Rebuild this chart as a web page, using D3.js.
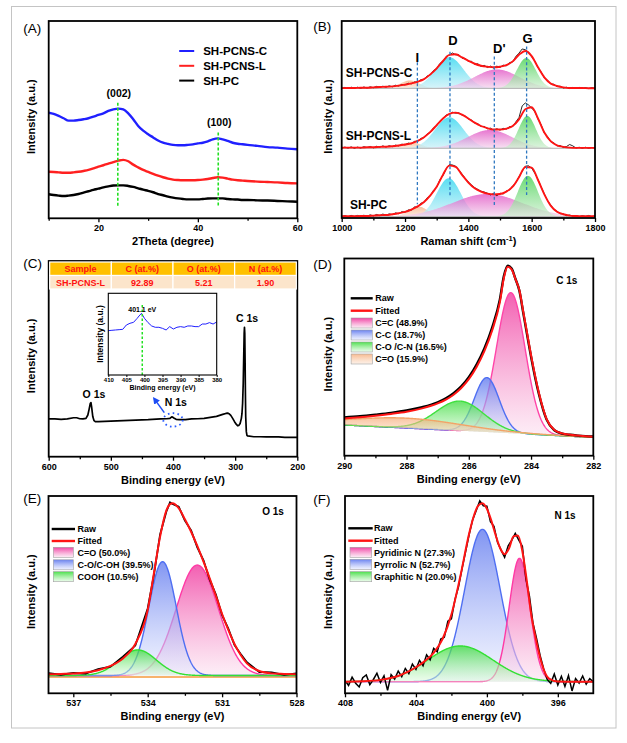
<!DOCTYPE html>
<html><head><meta charset="utf-8">
<script src="https://cdn.jsdelivr.net/npm/d3@7"></script>
<style>
html,body{margin:0;padding:0;background:#fff;}
svg text{font-family:"Liberation Sans",Arial,Helvetica,sans-serif;}
</style></head><body>
<svg id="fig" width="627" height="743"></svg>
<script>
// ===================== DATA =====================
// (A) XRD
const xrdTheta = [10,11,12,13,14,15,16,17,18,19,20,21,22,23,24,25,26,27,28,29,30,31,32,33,34,35,36,37,38,39,40,41,42,43,44,45,46,47,48,49,50,52,54,56,58,60];
const xrdSamples = ['SH-PCNS-C','SH-PCNS-L','SH-PC'];
const xrdPCNSC = [53.5,52.9,51.9,50.7,49.5,49.5,49.8,50.2,50.7,51.5,52.4,53.2,54.4,55.2,55.6,55.2,53.2,50.2,46.8,44.4,42.6,41.0,39.4,38.3,37.7,37.2,37.0,37.0,37.2,37.5,38.0,38.3,39.0,40.0,40.5,40.0,39.2,38.3,37.8,37.5,37.2,36.7,36.1,35.8,35.3,35.0];
const xrdPCNSL = [23.6,23.5,23.3,23.1,23.1,23.3,23.6,24.0,24.5,25.3,26.2,26.9,27.7,28.5,29.2,29.6,28.9,27.2,25.8,24.5,23.5,22.5,21.6,20.8,20.1,19.6,19.4,19.3,19.3,19.3,19.4,19.6,19.9,20.4,20.8,20.6,20.1,19.6,19.3,19.1,18.9,18.6,18.4,18.2,17.9,17.7];
const xrdPC = [12.2,11.8,11.5,11.3,11.5,11.8,12.3,13.0,13.7,14.4,15.0,15.7,16.2,16.6,16.7,16.7,16.4,15.9,15.2,14.5,13.9,13.2,12.3,11.7,11.0,10.5,10.1,9.8,9.6,9.6,9.6,9.8,10.0,10.1,10.1,10.1,9.8,9.6,9.5,9.3,9.3,9.1,9.0,8.8,8.6,8.4];
const xrdPeakPos = [23.9, 44.1];
const xrdPeakNames = ['(002)','(100)'];
const xrdTicks = [20,40,60];
const xrdMinor = [10,30,50];

// (B) Raman
const ramanShift = [1000,1020,1040,1060,1080,1100,1120,1140,1160,1180,1200,1220,1240,1260,1280,1300,1320,1340,1360,1380,1400,1420,1440,1460,1480,1500,1520,1540,1560,1580,1600,1620,1640,1660,1680,1700,1720,1740,1760,1780,1800];
const ramanRawShift = [1000,1010,1020,1030,1040,1050,1060,1070,1080,1090,1100,1110,1120,1130,1140,1150,1160,1170,1180,1190,1200,1210,1220,1230,1240,1250,1260,1270,1280,1290,1300,1310,1320,1330,1340,1350,1360,1370,1380,1390,1400,1410,1420,1430,1440,1450,1460,1470,1480,1490,1500,1510,1520,1530,1540,1550,1560,1570,1580,1590,1600,1610,1620,1630,1640,1650,1660,1670,1680,1690,1700,1710,1720,1730,1740,1750,1760,1770,1780,1790,1800];
const ramanSamples = ['SH-PCNS-C','SH-PCNS-L','SH-PC'];
const ramanOffsets = [65.8, 35.4, 0.7];
const ramanFitC = [0.1,0.2,0.2,0.3,0.3,0.5,0.7,0.8,1.0,1.4,1.9,2.5,3.4,4.7,7.1,10.2,13.9,17.0,17.3,15.7,14.0,12.5,11.5,11.0,10.7,11.0,11.8,13.7,17.1,19.0,16.4,10.7,5.6,2.5,1.2,0.5,0.2,0.2,0.2,0.1,0.1];
const ramanRawC = [0.0,0.5,-0.1,0.6,0.1,0.6,0.0,0.7,0.2,0.8,0.3,1.0,0.5,1.1,0.6,1.3,0.8,1.6,1.2,2.0,1.7,2.6,2.3,3.3,3.1,4.4,4.5,6.3,6.8,9.1,10.0,12.6,13.6,16.2,16.9,18.0,17.0,17.1,15.3,15.2,13.7,13.7,12.2,12.5,11.1,11.7,10.6,11.3,10.3,11.3,10.6,11.8,11.4,13.1,13.4,16.2,17.9,20.0,19.6,18.3,16.0,13.9,10.4,8.3,5.3,4.2,2.2,2.1,0.9,1.1,0.2,0.6,-0.1,0.5,0.0,0.5,0.0,0.4,-0.1,0.4,0.0];
const ramanFitL = [0.3,0.3,0.3,0.3,0.5,0.5,0.7,0.8,1.0,1.4,1.9,2.5,3.7,5.6,8.3,11.7,15.1,17.4,18.1,17.1,15.1,13.0,11.3,10.2,9.5,9.5,10.0,11.3,14.7,19.8,20.8,15.1,8.0,3.6,1.5,0.7,0.3,0.2,0.2,0.2,0.2];
const ramanRawL = [0.0,0.6,0.1,0.7,0.0,0.6,0.1,0.8,0.3,0.9,0.2,1.0,0.5,1.2,0.6,1.3,0.8,1.6,1.2,2.1,1.7,2.6,2.3,3.5,3.5,5.0,5.4,7.3,8.0,10.4,11.4,13.8,14.8,16.9,17.2,18.3,17.8,18.0,16.8,16.5,14.8,14.4,12.7,12.5,11.0,11.1,9.9,10.2,9.2,9.9,9.2,10.1,9.7,11.0,11.0,13.4,15.6,21.5,23.0,22.0,20.4,18.6,14.8,11.9,7.7,6.0,3.3,2.8,1.2,1.4,0.4,0.9,1.9,1.2,0.1,0.5,0.0,0.5,0.0,0.4,0.1];
const ramanFitPC = [0.2,0.2,0.2,0.3,0.3,0.5,0.7,0.8,1.2,1.7,2.4,3.6,5.2,7.4,10.8,15.2,21.3,25.9,25.2,21.2,17.3,14.4,12.7,11.7,11.3,11.5,12.7,15.2,20.0,25.2,24.9,18.6,11.3,5.6,2.5,1.2,0.5,0.3,0.2,0.2,0.2];
const ramanRawPC = [0.0,0.5,0.0,0.6,0.1,0.6,0.1,0.7,0.2,0.9,0.3,1.1,0.5,1.3,0.7,1.4,1.0,1.9,1.5,2.5,2.2,3.4,3.3,4.9,4.9,6.8,7.2,9.6,10.5,13.4,14.9,18.7,20.9,24.3,26.4,26.2,25.6,23.7,21.6,19.4,17.6,16.1,14.7,13.8,12.9,12.5,11.9,11.0,11.8,10.6,11.9,11.5,13.0,13.5,15.6,17.2,20.3,23.0,25.6,25.8,24.6,22.0,18.9,15.0,11.5,8.2,5.9,3.8,2.7,1.5,1.4,0.5,0.8,0.2,0.6,0.0,0.5,0.1,0.6,0.0,0.4];
const ramanBands = ['I','D',"D'",'G'];
const ramanBandPos = [1239, 1342, 1482, 1584];
// fitted band parameters [I, D, D', G] per sample: centre (cm-1), height, sigma (cm-1)
const ramanCentersC = [1215, 1340, 1490, 1583];
const ramanHeightsC = [4.0, 15.8, 9.6, 15.4];
const ramanWidthsC  = [30, 45, 70, 30];
const ramanCentersL = [1220, 1340, 1468, 1586];
const ramanHeightsL = [3.0, 15.7, 9.3, 16.4];
const ramanWidthsL  = [30, 45, 70, 27];
const ramanCentersPC = [1242, 1338, 1460, 1588];
const ramanHeightsPC = [5.1, 19.5, 11.5, 20.7];
const ramanWidthsPC  = [30, 38, 110, 32];
const ramanTicks = [1000,1200,1400,1600,1800];
const ramanMinor = [1100,1300,1500,1700];

// (C) XPS survey
const surveyE = [600,590,580,570,560,555,550,545,540,537,535,533,532,531,529,527,525,520,510,500,480,460,440,420,410,405,402,400,398,395,390,380,370,360,350,340,330,325,320,315,312,310,307,304,301,298,296,294,292,290,289,288,287,286,285.5,285,284.5,284,283.5,283,282,281,280,270,260,250,240,230,220,210,200];
const surveyV = [19.3,19.3,19.1,19.3,19.9,19.9,19.4,19.3,19.6,21.3,24.2,27.3,27.6,25.6,20.4,18.4,17.9,17.9,18.1,18.2,18.4,18.7,18.9,19.3,19.4,19.6,20.4,20.1,19.6,19.1,18.9,18.9,19.3,19.4,19.6,20.1,20.6,21.1,21.6,22.1,22.3,22.0,21.1,19.6,17.9,16.5,15.8,16.0,17.0,19.6,22.1,27.3,37.5,54.5,63.0,66.1,63.0,49.4,32.4,20.4,12.8,10.9,10.6,10.2,10.2,10.1,10.1,10.1,9.9,9.9,9.9];
const surveyPeaks = ['O 1s','N 1s','C 1s'];
const surveyTicks = [600,500,400,300,200];
const surveyMinor = [550,450,350,250];
const insetE = [410,409,408,407,406,405,404,403,402,401.5,400.8,400,399,398,397,396,395,394,393,392,391,390,389,388,387,386,385,384,383,382,381,380];
const insetV = [54.3,54.7,55.1,55.5,55.9,61.2,63.3,64.5,69.4,72.2,75.5,69.4,64.1,60.0,58.4,58.4,57.1,55.1,59.2,56.3,58.4,59.2,58.4,60.0,60.0,59.2,59.2,62.4,62.4,64.1,62.4,64.9];
const insetPeak = 400.6;
const insetPeakLabel = '401.1 eV';
const insetTicks = [410,405,400,395,390,385,380];
const tableHeader = ['Sample','C (at.%)','O (at.%)','N (at.%)'];
const tableRow = ['SH-PCNS-L','92.89','5.21','1.90'];

// (D) C 1s
const c1sEnergy = [290,289.5,289,288.5,288,287.5,287,286.75,286.5,286.25,286,285.75,285.5,285.25,285,284.875,284.75,284.625,284.5,284.375,284.25,284.125,284,283.75,283.5,283.25,283,282.75,282.5,282.25,282];
const c1sFitted = [18.9,19.5,20.3,21.2,22.3,24.0,26.5,28.3,30.8,34.2,38.8,45.0,53.0,63.5,78.0,90.0,95.8,94.5,89.5,84.0,73.0,62.0,51.0,32.0,18.5,13.0,11.3,10.6,10.2,9.9,9.6];
const c1sRaw = [19.4,20.0,20.8,21.7,22.9,24.6,27.1,29.0,31.6,35.0,39.8,46.2,54.4,65.0,79.4,91.0,96.4,95.0,89.6,83.6,72.4,61.2,50.2,31.4,18.3,12.9,11.2,10.6,10.2,9.9,9.7];
const c1sLabels = ['C=C (48.9%)','C-C (18.7%)','C-O /C-N (16.5%)','C=O (15.9%)'];
const c1sCenters = [284.65, 285.42, 286.28, 288.0];
const c1sHeights = [71.3, 27.6, 15.0, 5.0];
const c1sWidths = [0.46, 0.40, 0.77, 1.8];
const c1sBackE = [290, 282];
const c1sBackV = [15.6, 9.3];
const c1sTicks = [290,288,286,284,282];
const c1sMinor = [289,287,285,283];

// (E) O 1s
const o1sEnergy = [538,537.5,537,536.5,536,535.5,535,534.5,534,533.75,533.5,533.25,533.1,533,532.75,532.5,532.25,532,531.75,531.5,531.25,531,530.75,530.5,530.25,530,529.5,529,528.5,528];
const o1sFitted = [9.6,9.8,10.0,10.5,11.7,13.9,17.7,25.0,42.2,60.8,79.4,92.6,95.9,96.3,93.8,88.2,81.9,74.7,66.7,58.3,49.3,40.2,32.1,25.0,19.4,15.2,11.3,10.1,9.8,9.6];
const o1sRaw = [10.2,9.4,10.3,10.0,12.3,13.5,18.6,24.2,43.0,60.0,80.5,92.0,96.8,96.0,94.6,87.5,82.6,74.0,67.4,57.6,50.0,39.6,32.8,24.4,19.9,15.7,10.8,10.6,9.3,10.1];
const o1sLabels = ['C=O (50.0%)','C-O/C-OH (39.5%)','COOH (10.5%)'];
const o1sCenters = [532.0, 533.4, 534.4];
const o1sHeights = [56.0, 57.7, 13.0];
const o1sWidths = [0.85, 0.55, 0.75];
const o1sBackE = [538, 528];
const o1sBackV = [9.0, 9.0];
const o1sTicks = [537,534,531,528];
const o1sMinor = [535.5,532.5,529.5];

// (F) N 1s
const n1sEnergy = [408,407,406,405,404.5,404,403.5,403,402.5,402,401.5,401,400.75,400.5,400.25,400,399.75,399.5,399.25,399,398.75,398.5,398.25,398,397.75,397.5,397.25,397,396.75,396.5,396,395,394];
const n1sFitted = [5.9,6.1,6.8,8.8,10.7,13.2,16.3,20.5,27.5,39.9,59.2,81.0,89.5,95.0,96.3,93.5,87.5,80.0,73.5,70.5,73.5,79.5,80.0,72.0,57.0,40.0,28.0,18.0,11.0,7.5,6.0,5.9,5.9];
const n1sRawE = [408,407.8,407.6,407.4,407.2,407,406.8,406.6,406.4,406.2,406,405.8,405.6,405.4,405.2,405,404.8,404.6,404.4,404.2,404,403.8,403.6,403.4,403.2,403,402.8,402.6,402.4,402.2,402,401.8,401.6,401.4,401.2,401,400.8,400.6,400.4,400.2,400,399.8,399.6,399.4,399.2,399,398.8,398.6,398.4,398.2,398,397.8,397.6,397.4,397.2,397,396.8,396.6,396.4,396.2,396,395.8,395.6,395.4,395.2,395,394.8,394.6,394.4,394.2,394];
const n1sRaw = [6.5,4.0,8.2,5.1,3.2,7.9,9.3,4.4,7.0,10.2,5.5,8.9,1.5,9.4,7.2,11.3,8.4,12.6,10.0,14.8,12.1,16.7,14.0,19.5,17.0,22.8,21.0,27.5,28.4,36.5,37.8,47.5,54.0,63.2,71.8,80.5,88.0,92.7,97.5,95.0,94.8,87.0,84.6,76.5,72.6,69.0,74.8,77.5,81.0,77.6,74.5,58.0,49.2,35.5,27.8,19.2,12.5,7.0,5.0,9.8,4.2,8.6,3.5,9.0,1.2,7.5,5.2,8.8,4.6,7.4,5.8];
const n1sLabels = ['Pyridinic N (27.3%)','Pyrrolic N (52.7%)','Graphitic N (20.0%)'];
const n1sCenters = [398.16, 400.25, 401.5];
const n1sHeights = [62.5, 77.2, 18.1];
const n1sWidths = [0.585, 1.0, 1.84];
const n1sBackE = [408, 394];
const n1sBackV = [5.9, 5.9];
const n1sTicks = [408,404,400,396];
const n1sMinor = [406,402,398];

// ===================== DRAWING =====================
const FONT = '"Liberation Sans", Arial, Helvetica, sans-serif';
const svg = d3.select('#fig').attr('font-family', FONT);
const defs = svg.append('defs');
svg.append('rect').attr('width',627).attr('height',743).attr('fill','#fff');
svg.append('rect').attr('x',11.5).attr('y',6.5).attr('width',604.5).attr('height',721.5)
  .attr('fill','none').attr('stroke','#c4c4c4').attr('stroke-width',1);

function gradient(id, top, bottom, o1, o2) {
  const g = defs.append('linearGradient').attr('id', id).attr('x1',0).attr('y1',0).attr('x2',0).attr('y2',1);
  g.append('stop').attr('offset','0%').attr('stop-color',top).attr('stop-opacity',o1);
  g.append('stop').attr('offset','100%').attr('stop-color',bottom).attr('stop-opacity',o2);
}
gradient('gPink','#f0399f','#fbe0f0',0.95,0.65);
gradient('gBlue','#5a74ee','#e6ebff',0.9,0.6);
gradient('gGreen','#3bdc3b','#defade',0.9,0.6);
gradient('gOrange','#f6a46c','#fbe6d6',0.75,0.55);
gradient('rCyan','#30d6ef','#c4eff7',0.95,0.8);
gradient('rMag','#e04cc2','#f3d2ec',0.9,0.8);
gradient('rGreen','#3ccf48','#cdeecf',0.9,0.8);
gradient('rOrange','#f6a877','#fbe2d2',0.85,0.75);

defs.append('marker').attr('id','arrowBlue').attr('viewBox','0 0 8 8').attr('refX',6).attr('refY',4)
  .attr('markerWidth',7).attr('markerHeight',7).attr('markerUnits','userSpaceOnUse').attr('orient','auto')
  .append('path').attr('d','M0,0 L8,4 L0,8 Z').attr('fill','#1d4df5');

const BOX = {
  A:{x0:48.7,x1:297.3,y0:21,y1:218.3, lx:23.3, ly:32.5},
  B:{x0:341.7,x1:595,y0:21,y1:218, lx:313.3, ly:31},
  C:{x0:48.7,x1:297.3,y0:261,y1:456.7, lx:23.3, ly:268},
  D:{x0:344.3,x1:593.3,y0:258.5,y1:455.7, lx:313.3, ly:269},
  E:{x0:48.5,x1:296.5,y0:496,y1:693.3, lx:23.3, ly:503},
  F:{x0:345,x1:593.3,y0:496,y1:693.3, lx:313.3, ly:504}
};

function lerp(e, es, vs) { return vs[0] + (e - es[0]) / (es[1] - es[0]) * (vs[1] - vs[0]); }
function band(e, c, h, w) { return h * Math.exp(-((e - c) * (e - c)) / (2 * w * w)); }

function setup(id, xDomain, majors, minors, xTitle) {
  const b = BOX[id];
  const g = svg.append('g');
  const x = d3.scaleLinear().domain(xDomain).range([b.x0, b.x1]);
  const y = d3.scaleLinear().domain([0, 100]).range([b.y1, b.y0]);
  defs.append('clipPath').attr('id','clip'+id).append('rect')
    .attr('x',b.x0).attr('y',b.y0).attr('width',b.x1-b.x0).attr('height',b.y1-b.y0);
  const plot = g.append('g').attr('clip-path',`url(#clip${id})`);
  const major = g.append('g').attr('transform',`translate(0,${b.y1})`)
    .call(d3.axisBottom(x).tickValues(majors).tickSize(4).tickPadding(2.5).tickFormat(d3.format('d')));
  const minor = g.append('g').attr('transform',`translate(0,${b.y1})`)
    .call(d3.axisBottom(x).tickValues(minors).tickSize(2.5).tickFormat(''));
  [major, minor].forEach(a => { a.select('.domain').remove(); a.selectAll('line').attr('stroke','#000').attr('stroke-width',1.3); });
  major.attr('font-family',FONT).attr('font-size',9).attr('font-weight','bold');
  major.selectAll('text').attr('fill','#000');
  g.append('rect').attr('x',b.x0).attr('y',b.y0).attr('width',b.x1-b.x0).attr('height',b.y1-b.y0)
    .attr('fill','none').attr('stroke','#000').attr('stroke-width',1.8);
  const xt = g.append('text').attr('x',(b.x0+b.x1)/2).attr('y',b.y1+27).attr('text-anchor','middle')
    .attr('font-size',11).attr('font-weight','bold').text(xTitle);
  const yx = b.x0 < 200 ? 31 : 327.5;
  g.append('text').attr('transform',`translate(${yx},${(b.y0+b.y1)/2-3}) rotate(-90)`)
    .attr('text-anchor','middle').attr('dominant-baseline','central')
    .attr('font-size',11).attr('font-weight','bold').text('Intensity (a.u.)');
  g.append('text').attr('x',b.lx).attr('y',b.ly).attr('font-size',13.5).text('(' + id + ')');
  const over = g.append('g');
  return {g, plot, over, x, y, b, xt};
}

function linePath(P, xs, vs, curve) {
  return d3.line().x((d,i)=>P.x(xs[i])).y(d=>P.y(d)).curve(curve || d3.curveLinear)(vs);
}

// ---------- (A) ----------
const A = setup('A', [10,60], xrdTicks, xrdMinor, '2Theta (degree)');
const xrdSeries = [xrdPCNSC, xrdPCNSL, xrdPC];
const xrdColors = ['#2020ff','#ff2020','#000000'];
xrdSeries.forEach((s,i) => {
  A.plot.append('path').attr('d', linePath(A, xrdTheta, s, d3.curveMonotoneX))
    .attr('fill','none').attr('stroke',xrdColors[i]).attr('stroke-width',2.4);
});
xrdPeakPos.forEach((p,i) => {
  const k = d3.minIndex(xrdTheta, t => Math.abs(t - p));
  const top = xrdPCNSC[k] + 3;
  A.plot.append('line').attr('x1',A.x(p)).attr('x2',A.x(p)).attr('y1',A.y(top)).attr('y2',A.y(6))
    .attr('stroke','#22e022').attr('stroke-width',1.6).attr('stroke-dasharray','3,2');
  A.over.append('text').attr('x',A.x(p)+1).attr('y',A.y(top)-10).attr('text-anchor','middle')
    .attr('dominant-baseline','central').attr('font-size',10.5).attr('font-weight','bold').text(xrdPeakNames[i]);
});
xrdSamples.forEach((s,i) => {
  const yy = A.b.y0 + 30 + i*14.8;
  A.over.append('line').attr('x1',A.b.x0+130.5).attr('x2',A.b.x0+145.5).attr('y1',yy).attr('y2',yy)
    .attr('stroke',xrdColors[i]).attr('stroke-width',2);
  A.over.append('text').attr('x',A.b.x0+154.5).attr('y',yy).attr('dominant-baseline','central')
    .attr('font-size',11.5).attr('font-weight','bold').text(s);
});

// ---------- (B) ----------
const B = setup('B', [1000,1800], ramanTicks, ramanMinor, '');
B.xt.text('Raman shift (cm');
B.xt.append('tspan').attr('dy',-4).attr('font-size',7.5).text('-1');
B.xt.append('tspan').attr('dy',4).text(')');
const ramanFits = [ramanFitC, ramanFitL, ramanFitPC];
const ramanRaws = [ramanRawC, ramanRawL, ramanRawPC];
const ramanC = [ramanCentersC, ramanCentersL, ramanCentersPC];
const ramanH = [ramanHeightsC, ramanHeightsL, ramanHeightsPC];
const ramanW = [ramanWidthsC, ramanWidthsL, ramanWidthsPC];
const ramanFills = ['rOrange','rCyan','rMag','rGreen'];
const rGrid = d3.range(1000, 1801, 2);
ramanSamples.forEach((s, si) => {
  const off = ramanOffsets[si];
  [0,1,2,3].forEach(j => {
    B.plot.append('path').datum(rGrid)
      .attr('d', d3.area().x(e=>B.x(e)).y0(B.y(off)).y1(e=>B.y(off + band(e, ramanC[si][j], ramanH[si][j], ramanW[si][j]))))
      .attr('fill',`url(#${ramanFills[j]})`).attr('fill-opacity',0.85);
  });
  B.plot.append('line').attr('x1',B.b.x0).attr('x2',B.b.x1).attr('y1',B.y(off)).attr('y2',B.y(off))
    .attr('stroke','#b0b0b0').attr('stroke-width',1);
});
ramanSamples.forEach((s, si) => {
  const off = ramanOffsets[si];
  B.plot.append('path').attr('d', linePath(B, ramanRawShift, ramanRaws[si].map(v=>v+off)))
    .attr('fill','none').attr('stroke','#111').attr('stroke-width',0.9);
  B.plot.append('path').attr('d', linePath(B, ramanShift, ramanFits[si].map(v=>v+off), d3.curveMonotoneX))
    .attr('fill','none').attr('stroke','#ff1414').attr('stroke-width',1.9);
});
const guideTop = [79, 84.4, 82, 87], guideBot = [7, 10.8, 5.7, 11.7], bandLabelV = [81.5, 90, 85.8, 90.9], bandLabelDx = [0, 3, 5, 1];
ramanBands.forEach((nm, j) => {
  B.over.append('line').attr('x1',B.x(ramanBandPos[j])).attr('x2',B.x(ramanBandPos[j]))
    .attr('y1',B.y(guideTop[j])).attr('y2',B.y(guideBot[j]))
    .attr('stroke','#2f78c0').attr('stroke-width',1.3).attr('stroke-dasharray','3,2.2');
  B.over.append('text').attr('x',B.x(ramanBandPos[j])+bandLabelDx[j]).attr('y',B.y(bandLabelV[j]))
    .attr('text-anchor','middle').attr('dominant-baseline','central')
    .attr('font-size',13).attr('font-weight','bold').text(nm);
});
const ramanLabelW = [1013, 1013, 1026], ramanLabelDv = [7.9, 6.2, 5.9];
ramanSamples.forEach((s, si) => {
  B.over.append('text').attr('x',B.x(ramanLabelW[si])).attr('y',B.y(ramanOffsets[si]+ramanLabelDv[si]))
    .attr('dominant-baseline','central').attr('font-size',12).attr('font-weight','bold').text(s);
});

// ---------- (C) ----------
const C = setup('C', [600,200], surveyTicks, surveyMinor, 'Binding energy (eV)');
C.plot.append('path').attr('d', linePath(C, surveyE, surveyV))
  .attr('fill','none').attr('stroke','#000').attr('stroke-width',1.7).attr('stroke-linejoin','round');
const tx0 = C.b.x0 + 1, tw = (C.b.x1 - C.b.x0 - 2) / 4, ty0 = 262, th = 13.5;
[tableHeader, tableRow].forEach((row, r) => {
  row.forEach((cell, c) => {
    C.over.append('rect').attr('x',tx0 + c*tw).attr('y',ty0 + r*th).attr('width',tw).attr('height',th)
      .attr('fill', r === 0 ? '#ffc000' : '#fce5cb').attr('stroke','#fff').attr('stroke-width',1.2);
    C.over.append('text').attr('x',tx0 + c*tw + tw/2).attr('y',ty0 + r*th + th/2 + 0.5)
      .attr('text-anchor','middle').attr('dominant-baseline','central')
      .attr('font-size',9).attr('font-weight','bold').attr('fill','#ff1010').text(cell);
  });
});
const surveyLabelPos = [[527.1,32.0],[395.5,28.1],[280.9,71.0]];
surveyPeaks.forEach((nm,i) => {
  C.over.append('text').attr('x',C.x(surveyLabelPos[i][0])).attr('y',C.y(surveyLabelPos[i][1]))
    .attr('text-anchor','middle').attr('dominant-baseline','central')
    .attr('font-size',10.5).attr('font-weight','bold').text(nm);
});
C.over.append('ellipse').attr('cx',C.x(400)).attr('cy',C.y(18.8)).attr('rx',9.7).attr('ry',6.7)
  .attr('fill','none').attr('stroke','#2a5bff').attr('stroke-width',1.8).attr('stroke-dasharray','1.6,3.2');
C.over.append('line').attr('x1',C.x(414)).attr('y1',C.y(22.5)).attr('x2',C.x(430.6)).attr('y2',C.y(29.8))
  .attr('stroke','#1d4df5').attr('stroke-width',1.5).attr('marker-end','url(#arrowBlue)');
const ix = d3.scaleLinear().domain([410,380]).range([108.3,216.7]);
const iy = d3.scaleLinear().domain([0,100]).range([375,293.3]);
const inset = C.over.append('g');
inset.append('rect').attr('x',108.3).attr('y',293.3).attr('width',108.4).attr('height',81.7).attr('fill','#fff');
inset.append('path').datum(insetV).attr('d', d3.line().x((d,i)=>ix(insetE[i])).y(d=>iy(d)))
  .attr('fill','none').attr('stroke','#2020ff').attr('stroke-width',1);
inset.append('line').attr('x1',ix(insetPeak)).attr('x2',ix(insetPeak)).attr('y1',iy(85.7)).attr('y2',iy(0))
  .attr('stroke','#22e022').attr('stroke-width',1.5).attr('stroke-dasharray','2.5,2');
inset.append('text').attr('x',ix(insetPeak)).attr('y',iy(79.6)).attr('text-anchor','middle')
  .attr('dominant-baseline','central').attr('font-size',7).attr('font-weight','bold').text(insetPeakLabel);
const iax = inset.append('g').attr('transform','translate(0,375)')
  .call(d3.axisBottom(ix).tickValues(insetTicks).tickSize(2).tickPadding(1).tickFormat(d3.format('d')));
iax.select('.domain').remove();
iax.selectAll('line').attr('stroke','#000');
iax.attr('font-family',FONT).attr('font-size',6).attr('font-weight','bold');
iax.selectAll('text').attr('fill','#000');
inset.append('rect').attr('x',108.3).attr('y',293.3).attr('width',108.4).attr('height',81.7)
  .attr('fill','none').attr('stroke','#000').attr('stroke-width',1.1);
inset.append('text').attr('x',162.5).attr('y',389.5).attr('text-anchor','middle')
  .attr('font-size',7).attr('font-weight','bold').text('Binding energy (eV)');
inset.append('text').attr('transform','translate(100,334) rotate(-90)').attr('text-anchor','middle')
  .attr('dominant-baseline','central').attr('font-size',8.5).attr('font-weight','bold').text('Intensity (a.u.)');

// ---------- XPS helpers ----------
function drawComponents(P, grid, cs, hs, ws, bE, bV, fills, strokes, order) {
  order.forEach(i => {
    const area = d3.area().x(e=>P.x(e)).y0(e=>P.y(lerp(e,bE,bV))).y1(e=>P.y(lerp(e,bE,bV) + band(e, cs[i], hs[i], ws[i])));
    P.plot.append('path').datum(grid).attr('d', area).attr('fill',`url(#${fills[i]})`).attr('fill-opacity',0.85);
    P.plot.append('path').datum(grid).attr('d', area.lineY1())
      .attr('fill','none').attr('stroke',strokes[i]).attr('stroke-width',1.4);
  });
}
function xpsLegend(P, L, labels, fills) {
  const b = P.b;
  [['Raw','#000'],['Fitted','#ff1414']].forEach((r,i) => {
    const yy = b.y0 + L.ly[i];
    P.over.append('line').attr('x1',b.x0+L.lx0).attr('x2',b.x0+L.lx1).attr('y1',yy).attr('y2',yy)
      .attr('stroke',r[1]).attr('stroke-width',2.4);
    P.over.append('text').attr('x',b.x0+L.tx).attr('y',yy).attr('dominant-baseline','central')
      .attr('font-size',9).attr('font-weight','bold').text(r[0]);
  });
  labels.forEach((lab,i) => {
    const yy = b.y0 + L.by[i];
    P.over.append('rect').attr('x',b.x0+L.bx0).attr('y',yy).attr('width',L.bx1-L.bx0).attr('height',10)
      .attr('fill',`url(#${fills[i]})`).attr('stroke','#a0a0a0').attr('stroke-width',0.6);
    P.over.append('text').attr('x',b.x0+L.tx).attr('y',yy+5.2).attr('dominant-baseline','central')
      .attr('font-size',9).attr('font-weight','bold').text(lab);
  });
}
function corner(P, txt, x, y) {
  P.over.append('text').attr('x',x).attr('y',y).attr('text-anchor','middle').attr('dominant-baseline','central')
    .attr('font-size',10).attr('font-weight','bold').text(txt);
}

// ---------- (D) ----------
const D = setup('D', [290,282], c1sTicks, c1sMinor, 'Binding energy (eV)');
const dFills = ['gPink','gBlue','gGreen','gOrange'];
const dStrokes = ['#ff45a8','#4f6ff2','#3fe03f','#f2a468'];
drawComponents(D, d3.range(282, 290.001, 0.02), c1sCenters, c1sHeights, c1sWidths, c1sBackE, c1sBackV, dFills, dStrokes, [0,1,2,3]);
D.plot.append('path').attr('d', linePath(D, c1sEnergy, c1sRaw, d3.curveMonotoneX))
  .attr('fill','none').attr('stroke','#000').attr('stroke-width',2.4);
D.plot.append('path').attr('d', linePath(D, c1sEnergy, c1sFitted, d3.curveMonotoneX))
  .attr('fill','none').attr('stroke','#ff1414').attr('stroke-width',2);
xpsLegend(D, {lx0:6.4, lx1:28.4, tx:31, ly:[39.8,52.2], bx0:6.8, bx1:28, by:[59.5,71.5,83.5,95.5]}, c1sLabels, dFills);
corner(D, 'C 1s', 566.7, 280);

// ---------- (E) ----------
const E = setup('E', [538,528], o1sTicks, o1sMinor, 'Binding energy (eV)');
const eFills = ['gPink','gBlue','gGreen'];
const eStrokes = ['#ff3aa5','#4f6ff2','#33e033'];
E.plot.append('line').attr('x1',E.b.x0).attr('x2',E.b.x1).attr('y1',E.y(o1sBackV[0])+1.5).attr('y2',E.y(o1sBackV[1])+1.5)
  .attr('stroke','#f59a3c').attr('stroke-width',1.6);
drawComponents(E, d3.range(528, 538.001, 0.02), o1sCenters, o1sHeights, o1sWidths, o1sBackE, o1sBackV, eFills, eStrokes, [0,1,2]);
E.plot.append('path').attr('d', linePath(E, o1sEnergy, o1sRaw))
  .attr('fill','none').attr('stroke','#000').attr('stroke-width',1.8);
E.plot.append('path').attr('d', linePath(E, o1sEnergy, o1sFitted, d3.curveMonotoneX))
  .attr('fill','none').attr('stroke','#ff1414').attr('stroke-width',2);
xpsLegend(E, {lx0:3.2, lx1:26.5, tx:29, ly:[33,45], bx0:4.8, bx1:24.8, by:[51.3,63.8,75.7]}, o1sLabels, eFills);
corner(E, 'O 1s', 273, 511.7);

// ---------- (F) ----------
const F = setup('F', [408,394], n1sTicks, n1sMinor, 'Binding energy (eV)');
const fFills = ['gPink','gBlue','gGreen'];
const fStrokes = ['#ff3aa5','#4f6ff2','#33e033'];
drawComponents(F, d3.range(394, 408.001, 0.02), n1sCenters, n1sHeights, n1sWidths, n1sBackE, n1sBackV, fFills, fStrokes, [1,0,2]);
F.plot.append('path').attr('d', linePath(F, n1sRawE, n1sRaw))
  .attr('fill','none').attr('stroke','#000').attr('stroke-width',1.5);
F.plot.append('path').attr('d', linePath(F, n1sEnergy, n1sFitted, d3.curveMonotoneX))
  .attr('fill','none').attr('stroke','#ff1414').attr('stroke-width',2);
xpsLegend(F, {lx0:3.3, lx1:27.7, tx:29, ly:[32.3,44.7], bx0:5, bx1:26.7, by:[51.3,63.3,75.7]}, n1sLabels, fFills);
corner(F, 'N 1s', 565, 515);
</script></body></html>
